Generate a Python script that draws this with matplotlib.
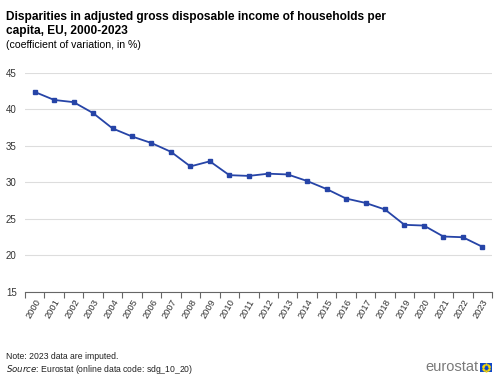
import numpy as np
import matplotlib.pyplot as plt
from matplotlib.patches import Rectangle

years = [str(y) for y in range(2000, 2024)]
values = [42.4, 41.3, 41.0, 39.5, 37.4, 36.3, 35.4, 34.2, 32.2, 32.9, 31.0, 30.9,
          31.2, 31.1, 30.2, 29.1, 27.8, 27.2, 26.3, 24.2, 24.1, 22.6, 22.5, 21.2]
yticks = [15, 20, 25, 30, 35, 40, 45]

plt.rcParams['font.family'] = ['Liberation Sans', 'DejaVu Sans']

fig = plt.figure(figsize=(5, 3.76), dpi=100)
ax = fig.add_axes([0.05, 0.2234, 0.934, 0.5826])

x = np.arange(len(years))
ax.plot(x, values, color='#2644a7', lw=1.3, marker='s', ms=3.3, zorder=3)

ax.set_xlim(-0.5, len(years) - 0.5)
ax.set_ylim(15, 45)
ax.set_yticks(yticks)
ax.set_yticklabels([str(v) for v in yticks], fontsize=7, color='#333333')
ax.set_xticks(x)
ax.set_xticklabels(years, rotation=60, fontsize=6.7, color='#333333', ha='right',
                   rotation_mode='anchor')
ax.set_xticks(np.arange(-0.5, len(years)), minor=True)
ax.tick_params(axis='x', which='major', length=0, pad=4)
ax.tick_params(axis='x', which='minor', length=4, color='#666666', width=0.8)
ax.tick_params(axis='y', length=0, pad=6)

ax.grid(axis='y', color='#dddddd', lw=0.8)
ax.set_axisbelow(True)
for s in ['top', 'right', 'left']:
    ax.spines[s].set_visible(False)
ax.spines['bottom'].set_color('#666666')
ax.spines['bottom'].set_linewidth(0.8)

fig.text(0.012, 0.972, 'Disparities in adjusted gross disposable income of households per\ncapita, EU, 2000-2023',
         fontsize=8.6, fontweight='bold', va='top', ha='left', linespacing=1.25)
fig.text(0.012, 0.893, '(coefficient of variation, in %)', fontsize=7.6, va='top', ha='left')

fig.text(0.012, 0.052, 'Note: 2023 data are imputed.', fontsize=6.2, va='center', ha='left', color='#222222')
fig.text(0.012, 0.017, r'$\it{Source}$: Eurostat (online data code: sdg_10_20)', fontsize=6.2,
         va='center', ha='left', color='#222222')

# eurostat logo
fig.text(0.956, 0.024, 'eurostat', fontsize=10.5, color='#7a7a7a', ha='right', va='center')
fig.patches.append(Rectangle((0.96, 0.011), 0.024, 0.024, transform=fig.transFigure,
                             facecolor='#0e47cb', edgecolor='none'))
ang = np.linspace(0, 2 * np.pi, 12, endpoint=False)
fig.add_artist(plt.Line2D(0.972 + 0.0065 * np.cos(ang), 0.023 + 0.0087 * np.sin(ang),
                          transform=fig.transFigure, ls='none', marker='o', ms=0.7,
                          color='#ffdd00'))

fig.savefig('out.png', dpi=100)
